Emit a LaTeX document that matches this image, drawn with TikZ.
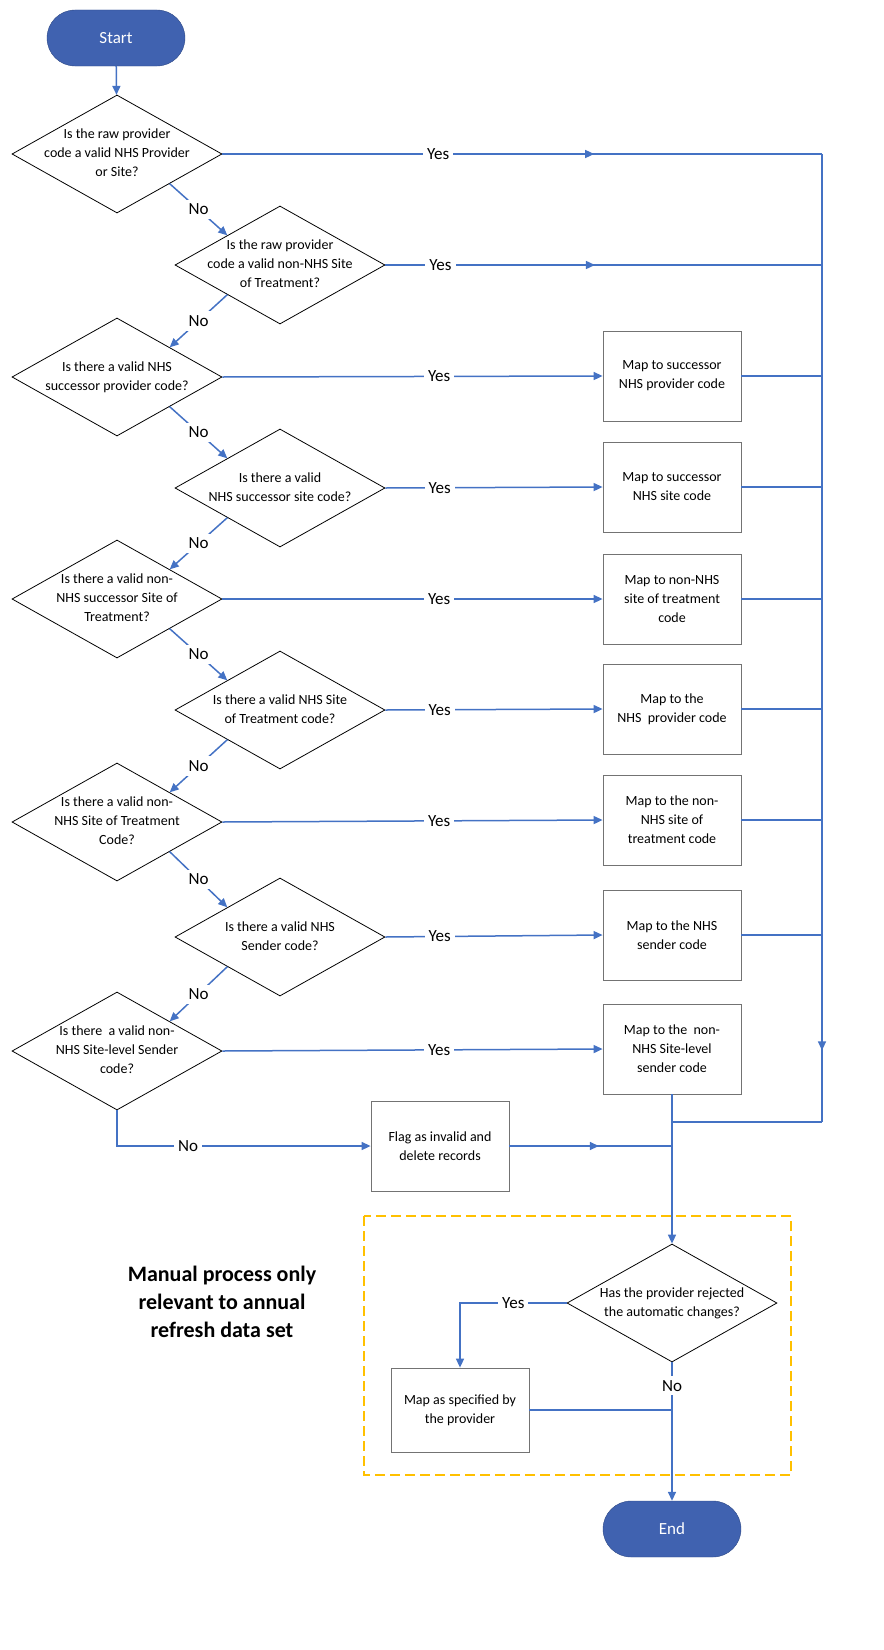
\documentclass[tikz,border=0pt]{standalone}
\usepackage{fontspec}
\setmainfont{Carlito}
\usetikzlibrary{shapes.geometric,arrows.meta,decorations.markings}
\definecolor{flowblue}{HTML}{4472C4}
\definecolor{termblue}{HTML}{4062B0}
\definecolor{termedge}{HTML}{2F4A86}
\definecolor{manualorange}{HTML}{FFC000}
\newcommand{\dtext}[1]{\makebox[0pt]{\begin{tabular}{@{}c@{}}#1\end{tabular}}}
\tikzset{
	terminal/.style={draw=termedge, fill=termblue, text=white, rounded corners=28bp, minimum width=138bp, minimum height=56bp, font=\fontsize{17bp}{20bp}\selectfont},
	decision/.style={diamond, draw=black, thick, inner sep=0bp, aspect=1.78, minimum width=210bp, minimum height=118bp, font=\fontsize{14bp}{19bp}\selectfont},
	process/.style={draw=black!55, thick, minimum width=138bp, minimum height=90bp, align=center, font=\fontsize{14bp}{19bp}\selectfont},
	flow/.style={draw=flowblue, line width=1.5bp},
	tip/.style={-{Triangle[length=9bp,width=8bp]}},
	lab/.style={fill=white, inner sep=4bp, font=\fontsize{17bp}{20bp}\selectfont},
	midtip/.style={postaction={decorate}, decoration={markings, mark=at position #1 with {\arrow{Triangle[length=9bp,width=8bp]}}}}
}
\begin{document}
\begin{tikzpicture}[x=1bp,y=-1bp]
	\useasboundingbox (0,0) rectangle (883,1650);

	% terminals
	\node[terminal] (start) at (116,38) {Start};
	\node[terminal] (end) at (672,1529) {End};

	% decisions
	\node[decision] (d1) at (117,154) {\dtext{Is the raw provider\\code a valid NHS Provider\\or Site?}};
	\node[decision] (d2) at (280,265) {\dtext{Is the raw provider\\code a valid non-NHS Site\\of Treatment?}};
	\node[decision] (d3) at (117,377) {\dtext{Is there a valid NHS\\successor provider code?}};
	\node[decision] (d4) at (280,488) {\dtext{Is there a valid\\NHS successor site code?}};
	\node[decision] (d5) at (117,599) {\dtext{Is there a valid non-\\NHS successor Site of\\Treatment?}};
	\node[decision] (d6) at (280,710) {\dtext{Is there a valid NHS Site\\of Treatment code?}};
	\node[decision] (d7) at (117,822) {\dtext{Is there a valid non-\\NHS Site of Treatment\\Code?}};
	\node[decision] (d8) at (280,937) {\dtext{Is there a valid NHS\\Sender code?}};
	\node[decision] (d9) at (117,1051) {\dtext{Is there \ a valid non-\\NHS Site-level Sender\\code?}};
	\node[decision] (d10) at (672,1303) {\dtext{Has the provider rejected\\the automatic changes?}};

	% processes
	\node[process] (b3) at (672,376) {Map to successor\\NHS provider code};
	\node[process] (b4) at (672,487) {Map to successor\\NHS site code};
	\node[process] (b5) at (672,599) {Map to non-NHS\\site of treatment\\code};
	\node[process] (b6) at (672,709) {Map to the\\NHS \ provider code};
	\node[process] (b7) at (672,820) {Map to the non-\\NHS site of\\treatment code};
	\node[process] (b8) at (672,935) {Map to the NHS\\sender code};
	\node[process] (b9) at (672,1049) {Map to the \ non-\\NHS Site-level\\sender code};
	\node[process] (flag) at (440,1146) {Flag as invalid and\\delete records};
	\node[process, minimum height=84bp] (manual) at (460,1410) {Map as specified by\\the provider};

	% rail coordinates
	\coordinate (r1) at (822,154);
	\coordinate (r2) at (822,265);
	\coordinate (rbot) at (822,1122);
	\coordinate (join) at (672,1122);
	\coordinate (fjoin) at (672,1146);
	\coordinate (mjoin) at (672,1410);
	\coordinate (nbend) at (117,1146);
	\coordinate (ybend) at (460,1303);

	% connectors
	\draw[flow, tip] (start) -- (d1);
	\draw[flow, midtip=0.62] (d1.east) -- node[lab, pos=0.36] {Yes} (r1);
	\draw[flow, midtip=0.48] (d2.east) -- node[lab, pos=0.126] {Yes} (r2);
	\draw[flow, midtip=0.926] (r1) -- (rbot);
	\foreach \d/\b/\p in {d3/b3/0.57, d5/b5/0.57, d7/b7/0.57, d9/b9/0.57, d4/b4/0.25, d6/b6/0.25, d8/b8/0.25}
		\draw[flow, tip] (\d.east) -- node[lab, pos=\p] {Yes} (\b.west);
	\foreach \b in {b3,b4,b5,b6,b7,b8}
		\draw[flow] (\b.east) -- (\b.east -| r1);
	\foreach \a/\c in {d1/d2, d3/d4, d5/d6, d7/d8}
		\draw[flow, tip] (\a.south east) -- node[lab] {No} (\c.north west);
	\foreach \a/\c in {d2/d3, d4/d5, d6/d7, d8/d9}
		\draw[flow, tip] (\a.south west) -- node[lab] {No} (\c.north east);
	\draw[flow, tip] (d9.south) -- (nbend) -- node[lab, pos=0.28] {No} (flag.west);
	\draw[flow, midtip=0.55] (flag.east) -- (fjoin);
	\draw[flow] (b9.south) -- (join) -- (rbot);
	\draw[flow, tip] (join) -- (d10.north);
	\draw[flow, tip] (d10.west) -- node[lab, pos=0.5] {Yes} (ybend) -- (manual.north);
	\draw[flow, tip] (d10.south) -- node[lab, pos=0.17] {No} (end.north);
	\draw[flow] (manual.east) -- (mjoin);

	% manual region
	\draw[manualorange, line width=1.5bp, dash pattern=on 10bp off 5bp] (364,1216) rectangle (791,1475);
	\node[font=\fontsize{22bp}{28bp}\selectfont\bfseries, align=center] (mlabel) at (222,1302) {Manual process only\\relevant to annual\\refresh data set};
\end{tikzpicture}
\end{document}
